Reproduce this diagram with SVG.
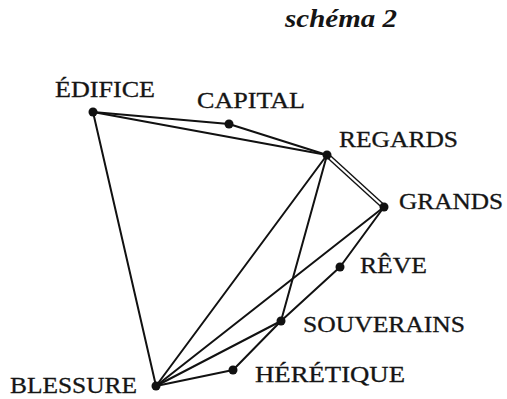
<svg xmlns="http://www.w3.org/2000/svg" width="507" height="399" viewBox="0 0 507 399">
<style>
.e{stroke:#111;stroke-width:2;fill:none;stroke-linecap:round}
.d{stroke:#111;stroke-width:1.4;fill:none}
.n{fill:#111}
.t{font-family:"Liberation Serif","Times New Roman",serif;font-size:23px;fill:#151515;stroke:#151515;stroke-width:0.3}
.h{font-family:"Liberation Serif","Times New Roman",serif;font-size:25px;font-weight:bold;font-style:italic;fill:#151515}
</style>
<rect width="507" height="399" fill="#fff"/>
<text class="h" x="285" y="27" textLength="112" lengthAdjust="spacingAndGlyphs">schéma 2</text>
<g id="connectors">
<line class="e" x1="93" y1="112" x2="229" y2="124"/>
<line class="e" x1="229" y1="124" x2="327" y2="155"/>
<line class="e" x1="93" y1="112" x2="327" y2="155"/>
<line class="e" x1="93" y1="112" x2="156" y2="386"/>
<line class="d" x1="326" y1="156.5" x2="383" y2="208.5"/>
<line class="d" x1="328" y1="153.5" x2="385" y2="205.5"/>
<line class="e" x1="327" y1="155" x2="156" y2="386"/>
<line class="e" x1="327" y1="155" x2="281" y2="321"/>
<line class="e" x1="384" y1="207" x2="156" y2="386"/>
<line class="e" x1="384" y1="207" x2="340" y2="267"/>
<line class="e" x1="340" y1="267" x2="281" y2="321"/>
<line class="e" x1="281" y1="321" x2="156" y2="386"/>
<line class="e" x1="281" y1="321" x2="233" y2="370"/>
<line class="e" x1="233" y1="370" x2="156" y2="386"/>
</g>
<g id="edifice"><circle class="n" cx="93" cy="112" r="4.5"/><text class="t" x="55" y="97" textLength="100" lengthAdjust="spacingAndGlyphs">ÉDIFICE</text></g>
<g id="capital"><circle class="n" cx="229" cy="124" r="4.5"/><text class="t" x="197" y="108" textLength="108" lengthAdjust="spacingAndGlyphs">CAPITAL</text></g>
<g id="regards"><circle class="n" cx="327" cy="155" r="4.5"/><text class="t" x="339" y="147" textLength="119" lengthAdjust="spacingAndGlyphs">REGARDS</text></g>
<g id="grands"><circle class="n" cx="384" cy="207" r="4.5"/><text class="t" x="399" y="209" textLength="104" lengthAdjust="spacingAndGlyphs">GRANDS</text></g>
<g id="reve"><circle class="n" cx="340" cy="267" r="4.5"/><text class="t" x="360" y="273" textLength="67" lengthAdjust="spacingAndGlyphs">RÊVE</text></g>
<g id="souverains"><circle class="n" cx="281" cy="321" r="4.5"/><text class="t" x="303" y="332" textLength="162" lengthAdjust="spacingAndGlyphs">SOUVERAINS</text></g>
<g id="heretique"><circle class="n" cx="233" cy="370" r="4.5"/><text class="t" x="255" y="382" textLength="150" lengthAdjust="spacingAndGlyphs">HÉRÉTIQUE</text></g>
<g id="blessure"><circle class="n" cx="156" cy="386" r="4.5"/><text class="t" x="10" y="393" textLength="127" lengthAdjust="spacingAndGlyphs">BLESSURE</text></g>
</svg>
